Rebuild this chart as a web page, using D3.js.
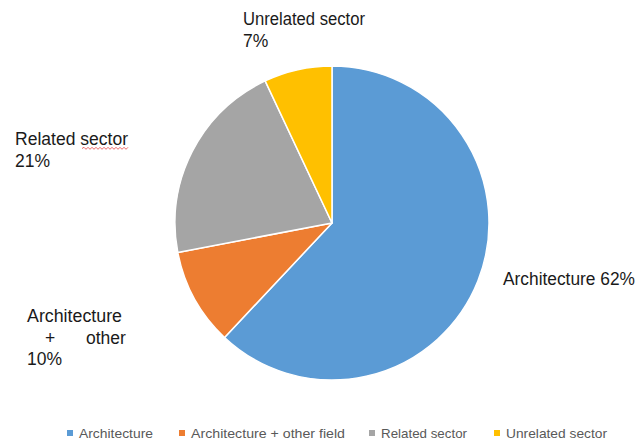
<!DOCTYPE html>
<html>
<head>
<meta charset="utf-8">
<script src="https://cdn.jsdelivr.net/npm/d3@7"></script>
<style>
  html, body { margin: 0; padding: 0; background: #fff; }
  svg { display: block; }
</style>
</head>
<body>
<svg id="chart" width="638" height="441"></svg>
<script>
// ---- data ----
const categories = ["Architecture", "Architecture + other field", "Related sector", "Unrelated sector"];
const values = [62, 10, 21, 7];
const colors = ["#5B9BD5", "#ED7D31", "#A5A5A5", "#FFC000"];
// label lines per slice (as shown on chart)
const labelLines = [
  [["Architecture 62%"]],
  [["Architecture"], ["+", "other"], ["10%"]],
  [["Related sector"], ["21%"]],
  [["Unrelated sector"], ["7%"]]
];

// ---- layout ----
const cx = 332, cy = 223, R = 157;
const labelPos = [
  {x: 503, y: 285},
  {x: 27, y: 322},
  {x: 15, y: 145},
  {x: 243, y: 25}
];
// x offsets for multi-part lines and widths of first lines (layout)
const partOffsets = { "+": 18, "other": 59 };
const firstLineW = [132, 95, 113, 122];
const legendX = [67, 179, 369, 494];
const legendTextW = [74, 154, 86, 101];
const legendY = 433;

const svg = d3.select("#chart");

const pie = d3.pie().sort(null).value(d => d);
const arc = d3.arc().innerRadius(0).outerRadius(R);
const arcs = pie(values);

const g = svg.append("g").attr("transform", `translate(${cx},${cy})`);
g.selectAll("path")
  .data(arcs)
  .join("path")
  .attr("d", arc)
  .attr("fill", (d, i) => colors[i])
  .attr("stroke", "#fff")
  .attr("stroke-width", 1.5)
  .attr("stroke-linejoin", "round");

// labels
const lab = svg.append("g")
  .attr("font-family", "Liberation Sans, Arial, sans-serif")
  .attr("font-size", "17.5px")
  .attr("fill", "#1a1a1a");

labelLines.forEach((lines, i) => {
  lines.forEach((parts, j) => {
    parts.forEach(p => {
      const t = lab.append("text")
        .attr("x", labelPos[i].x + (parts.length > 1 ? partOffsets[p] : 0))
        .attr("y", labelPos[i].y + j * 21.5)
        .text(p);
      if (j === 0) {
        t.attr("textLength", firstLineW[i]).attr("lengthAdjust", "spacingAndGlyphs");
      }
    });
  });
});

// spell-check squiggle under "sector" in Related sector label
(function() {
  const x0 = 82, x1 = 128, y0 = 148.5;
  let d = `M${x0},${y0}`;
  let up = true;
  for (let x = x0 + 2; x <= x1; x += 2) {
    d += ` L${x},${y0 + (up ? -1.2 : 0.8)}`;
    up = !up;
  }
  svg.append("path").attr("d", d).attr("fill", "none")
    .attr("stroke", "#e84040").attr("stroke-width", 0.8);
})();

// legend
const leg = svg.append("g")
  .attr("font-family", "Liberation Sans, Arial, sans-serif")
  .attr("font-size", "13.5px")
  .attr("fill", "#595959");

categories.forEach((c, i) => {
  leg.append("rect")
    .attr("x", legendX[i])
    .attr("y", legendY - 3)
    .attr("width", 6)
    .attr("height", 6)
    .attr("fill", colors[i]);
  leg.append("text")
    .attr("x", legendX[i] + 12)
    .attr("y", legendY + 4.8)
    .attr("textLength", legendTextW[i])
    .attr("lengthAdjust", "spacingAndGlyphs")
    .text(c);
});
</script>
</body>
</html>
